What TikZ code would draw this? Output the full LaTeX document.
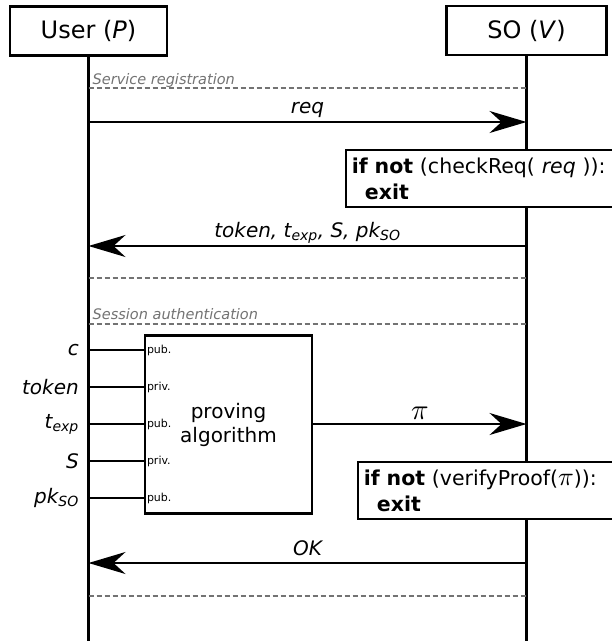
\documentclass[tikz,border=0pt]{standalone}
\usepackage{fontspec}
\setmainfont{DejaVu Sans}
\usetikzlibrary{arrows.meta}

\tikzset{
  actor/.style={draw, line width=2.6pt, minimum width=157pt, minimum height=49pt,
    inner sep=0pt, font=\fontsize{24}{28}\selectfont},
  lifeline/.style={line width=2.8pt},
  msg/.style={line width=2pt, -{Stealth[length=37pt,width=22pt,inset=12pt]}},
  msglabel/.style={font=\fontsize{20}{24}\selectfont\itshape, inner sep=0pt},
  phase/.style={draw=black!55, line width=1.2pt, dash pattern=on 5pt off 3pt},
  phaselabel/.style={text=black!55, font=\fontsize{14.5}{17}\selectfont\itshape,
    inner sep=0pt, anchor=base west},
  guard/.style={draw, fill=white, line width=1.8pt, align=left, anchor=north west,
    text width=300pt, minimum height=57pt, inner xsep=6pt, inner ysep=0pt,
    font=\fontsize{20.5}{26}\selectfont},
  algo/.style={draw, fill=white, line width=2.4pt, minimum width=167pt,
    minimum height=178pt, align=center, inner sep=0pt,
    font=\fontsize{20}{24}\selectfont},
  wire/.style={line width=2pt},
  inlabel/.style={anchor=east, inner sep=0pt, font=\fontsize{20}{24}\selectfont\itshape},
  portlabel/.style={anchor=west, inner sep=0pt, font=\fontsize{11}{13}\selectfont},
}

\newcommand{\sbs}[1]{\textsubscript{#1}}
% pi drawn from a 10pt base, then enlarged
\newcommand{\bigpi}[1]{\scalebox{#1}{\fontsize{10}{12}\selectfont$\pi$}}

\begin{document}
\begin{tikzpicture}[x=1pt, y=-1pt]
  \clip (0,0) rectangle (612,641);
  \fill[white] (0,0) rectangle (612,641);

  % participants
  \node[actor] (user) at (88.5,31) {User (\textit{P})};
  \node[actor, minimum width=160pt] (so) at (526.5,30.5) {SO (\textit{V})};

  % lifelines
  \coordinate (userEnd) at (88.5,650);
  \coordinate (soEnd) at (526.5,650);
  \draw[lifeline] (user.south) -- (userEnd);
  \draw[lifeline] (so.south) -- (soEnd);

  % ---- service registration ----
  \coordinate (ph1u) at (88.5,88);  \coordinate (ph1s) at (526.5,88);
  \draw[phase] (ph1u) -- (ph1s);
  \node[phaselabel] (ph1lab) at (92.5,84.5) {Service registration};

  \coordinate (m1u) at (88.5,122);  \coordinate (m1s) at (526.5,122);
  \draw[msg] (m1u) -- (m1s) node[msglabel, midway, above=3pt] (m1lab) {req};

  \node[guard] (chk) at (345,149)
    {\textbf{if not} (checkReq( \textit{req} )):\\\hspace*{13pt}\textbf{exit}};

  \coordinate (m2u) at (88.5,246);  \coordinate (m2s) at (526.5,246);
  \draw[msg] (m2s) -- (m2u) node[msglabel, midway, above=1.5pt] (m2lab)
    {token, t\sbs{exp}, S, pk\sbs{SO}};

  \coordinate (ph2u) at (88.5,278);  \coordinate (ph2s) at (526.5,278);
  \draw[phase] (ph2u) -- (ph2s);

  % ---- session authentication ----
  \coordinate (ph3u) at (88.5,324);  \coordinate (ph3s) at (526.5,324);
  \draw[phase] (ph3u) -- (ph3s);
  \node[phaselabel] (ph3lab) at (92.5,319) {Session authentication};

  \node[algo] (prove) at (228.5,424.5) {proving\\algorithm};

  % inputs of the proving algorithm
  \foreach \nm/\yy/\lab/\port in {inC/350/c/pub., inToken/387/token/priv.,
      inTexp/424/t\sbs{exp}/pub., inS/461/S/priv., inPk/498/pk\sbs{SO}/pub.} {
    \coordinate (\nm) at (88.5,\yy);
    \draw[wire] (\nm) -- (\nm -| prove.west);
    \node[inlabel] (\nm lab) at (79,\yy) {\lab};
    \node[portlabel] (\nm port) at ([xshift=3pt]\nm -| prove.west) {\port};
  }

  \coordinate (piS) at (526.5,424);
  \draw[msg] (prove.east |- piS) -- (piS)
    node[midway, above=4pt, inner sep=0pt] (pilab) {\bigpi{2.9}};

  \node[guard] (ver) at (357,461)
    {\textbf{if not} (verifyProof(\bigpi{2.6})):\\\hspace*{13pt}\textbf{exit}};

  \coordinate (m4u) at (88.5,563);  \coordinate (m4s) at (526.5,563);
  \draw[msg] (m4s) -- (m4u) node[msglabel, midway, above=6pt] (m4lab) {OK};

  \coordinate (ph4u) at (88.5,596);  \coordinate (ph4s) at (526.5,596);
  \draw[phase] (ph4u) -- (ph4s);
\end{tikzpicture}
\end{document}
